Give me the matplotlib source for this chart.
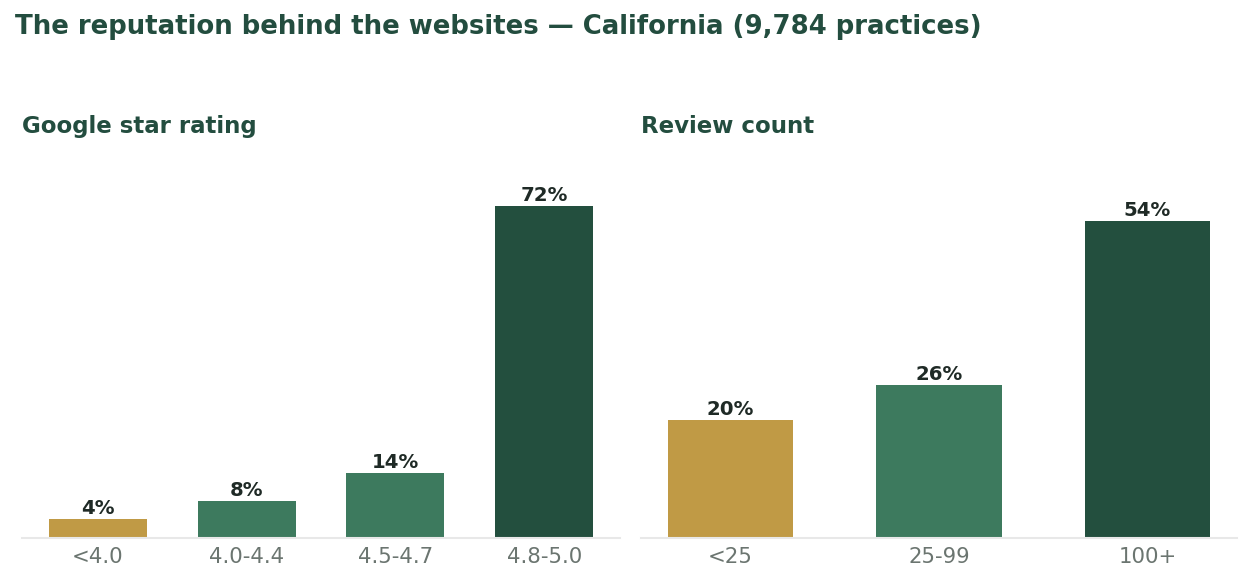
import matplotlib
matplotlib.use("Agg")
import matplotlib.pyplot as plt

rating_labels = ["<4.0", "4.0-4.4", "4.5-4.7", "4.8-5.0"]
rating_values = [4, 8, 14, 72]
review_labels = ["<25", "25-99", "100+"]
review_values = [20, 26, 54]

GOLD = "#C09A45"
MID = "#3D7A5E"
DARK = "#234F3E"
TITLE_C = "#234D3F"
VAL_C = "#1F2A26"
TICK_C = "#6B7570"
BASE_C = "#E8E8E8"

W, H = 1252, 580
fig = plt.figure(figsize=(W / 100, H / 100), dpi=100)
plt.rcParams['font.family'] = ['DejaVu Sans']

def px_axes(x0, x1, ytop, ybot):
    return fig.add_axes([x0 / W, 1 - ybot / H, (x1 - x0) / W, (ybot - ytop) / H])

ax1 = px_axes(22, 620, 160, 537.5)
ax2 = px_axes(641, 1237, 160, 537.5)

def draw(ax, labels, values, colors, width, xlim, ymax, title):
    x = list(range(len(values)))
    bars = ax.bar(x, values, width=width, color=colors, zorder=2)
    for b, v in zip(bars, values):
        ax.annotate(f"{v}%", (b.get_x() + b.get_width() / 2, v),
                    xytext=(0, 0.5), textcoords="offset points",
                    ha="center", va="bottom", fontsize=14.2, fontweight="bold", color=VAL_C)
    ax.set_xlim(*xlim)
    ax.set_ylim(0, ymax)
    ax.set_xticks(x)
    ax.set_xticklabels(labels, fontsize=15.3, color=TICK_C)
    ax.tick_params(axis="x", length=0, pad=6.5)
    ax.set_yticks([])
    for s in ["top", "right", "left"]:
        ax.spines[s].set_visible(False)
    ax.spines["bottom"].set_color(BASE_C)
    ax.spines["bottom"].set_linewidth(1.5)
    ax.set_title(title, loc="left", fontsize=16.5, fontweight="bold", color=TITLE_C, pad=19.5, x=0)

draw(ax1, rating_labels, rating_values, [GOLD, MID, MID, DARK], 0.66, (-0.51, 3.51), 377.5 / 4.61,
     "Google star rating")
draw(ax2, review_labels, review_values, [GOLD, MID, DARK], 0.6, (-0.43, 2.43), 377.5 / 5.87,
     "Review count")

fig.text(15 / W, 1 - 27.5 / H, "The reputation behind the websites \u2014 California (9,784 practices)",
         fontsize=18.7, fontweight="bold", color=TITLE_C, ha="left", va="center")

fig.savefig("out.png", dpi=100, facecolor="white")
